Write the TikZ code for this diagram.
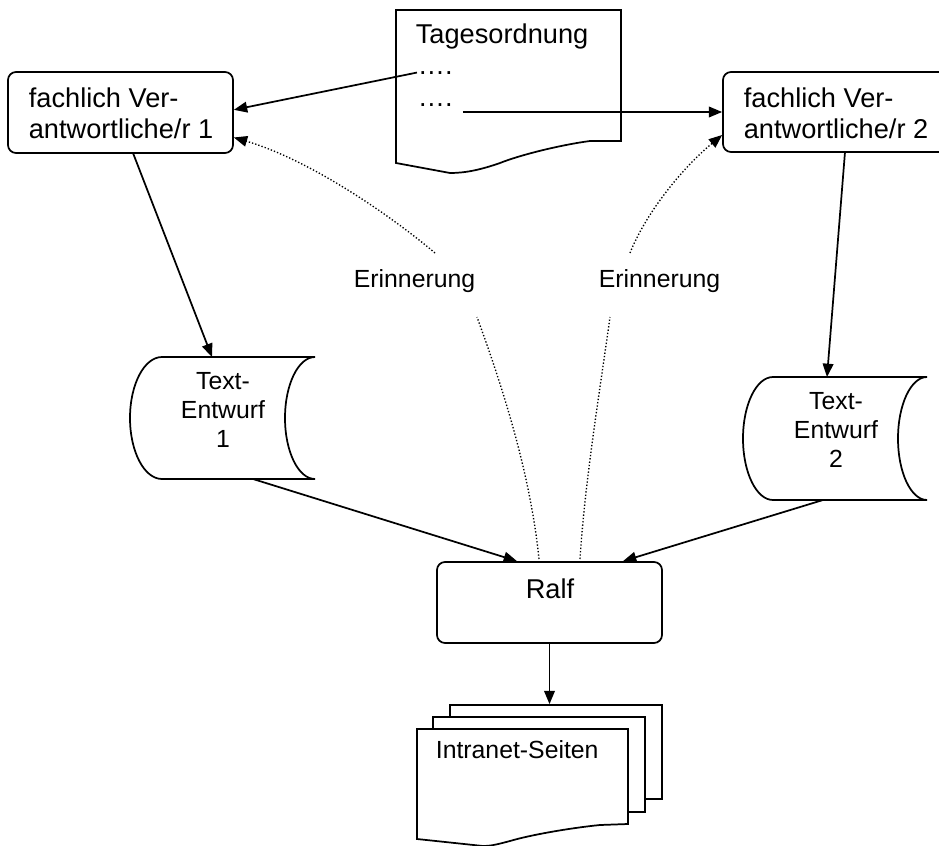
\documentclass[tikz,border=0pt]{standalone}
\usepackage{fontspec}
\setmainfont{Liberation Sans}
\usetikzlibrary{arrows.meta,calc,fit}
\begin{document}
\begin{tikzpicture}[x=0.75pt,y=-0.75pt,
  line width=1.3pt,
  arr/.style={-{Triangle[length=10pt,width=8pt]}},
  dotline/.style={dash pattern=on 1pt off 1.5pt, line width=1pt},
  box/.style={draw, rounded corners=6pt, inner sep=0pt},
  page/.style={draw, fill=white, inner sep=0pt},
  big/.style={font=\fontsize{20.4}{23.25}\selectfont, inner sep=0pt},
  small/.style={font=\fontsize{18.6}{21.5}\selectfont, inner sep=0pt},
]
\useasboundingbox (0,0) rectangle (939,846);

% boxes
\node[box, fit={(8,72) (233,153)}] (b1) {};
\node[big, anchor=base west, align=left] (b1t) at (28,138) {fachlich Ver-\\antwortliche/r 1};
\node[box, fit={(723,72) (950,152)}] (b2) {};
\node[big, anchor=base west, align=left] (b2t) at (743,138) {fachlich Ver-\\antwortliche/r 2};

% Tagesordnung document
\draw[fill=white] (396,10) -- (621,10) -- (621,141) -- (590,141)
  .. controls (560,145) and (520,155) .. (500,163)
  .. controls (480,170) and (465,173) .. (450,173) -- (396,163) -- cycle;
\node[big, anchor=base west] (tag) at (415,43) {Tagesordnung};
\node[big, anchor=base west] (d1) at (417,74) {….};
\node[big, anchor=base west] (d2) at (417,106) {….};

\draw[arr] (d1.west) -- ([yshift=2pt]b1.east);
\draw[arr] ([xshift=7pt]d2.east |- b2.west) -- (b2.west);

% Text-Entwurf 1
\draw (162,357) -- (315,357) .. controls (298.4,357) and (285,384.3) .. (285,418)
  .. controls (285,451.7) and (298.4,479) .. (315,479) -- (162,479)
  .. controls (144.3,479) and (130,451.7) .. (130,418)
  .. controls (130,384.3) and (144.3,357) .. cycle;
\node[small, align=center, anchor=base] (te1) at (223,447) {Text-\\Entwurf\\1};
\coordinate (te1n) at (212,357);
\coordinate (te1s) at (253,479);

% Text-Entwurf 2
\draw (773,377) -- (927,377) .. controls (911,377) and (898,404.5) .. (898,438.5)
  .. controls (898,472.5) and (911,500) .. (927,500) -- (773,500)
  .. controls (756.4,500) and (743,472.5) .. (743,438.5)
  .. controls (743,404.5) and (756.4,377) .. cycle;
\node[small, align=center, anchor=base] (te2) at (836,467) {Text-\\Entwurf\\2};
\coordinate (te2n) at (827,377);
\coordinate (te2s) at (823,500);

% Ralf
\node[box, fit={(437,562) (662,643)}] (ralf) {};
\node[big, anchor=base] (ralft) at (550,598) {Ralf};

\coordinate (b1s) at (133,153);
\coordinate (b2s) at (845,152);
\draw[arr] (b1s) -- (te1n);
\draw[arr] (b2s) -- (te2n);
\draw[arr] (te1s) -- ($(ralf.north)+(-32.5,0)$);
\draw[arr] (te2s) -- ($(ralf.north)+(73.5,0)$);

% Erinnerung
\node[small, anchor=base west] (e1) at (353,287) {Erinnerung};
\node[small, anchor=base west] (e2) at (598,287) {Erinnerung};
\coordinate (e1u) at (435,253);
\coordinate (e1d) at (477,317);
\coordinate (e2u) at (630,253);
\coordinate (e2d) at (610,317);
\coordinate (rl) at (539,559);
\coordinate (rr) at (580,559);
\draw[dotline] (rl) .. controls (530,470) and (500,380) .. (e1d);
\draw[dotline, arr] (e1u) .. controls (390,215) and (310,160) .. ($(b1.east)+(0,25)$);
\draw[dotline] (rr) .. controls (585,480) and (600,390) .. (e2d);
\draw[dotline, arr] (e2u) .. controls (645,215) and (680,170) .. ($(b2.west)+(0,23)$);

% Intranet pages
\node[page, fit={(450,705) (662,799)}] (p3) {};
\node[page, fit={(433,717) (645,812)}] (p2) {};
\draw[fill=white] (417,729) -- (628,729) -- (628,824) -- (600,825)
  .. controls (570,828) and (530,835) .. (510,841)
  .. controls (495,845) and (490,846) .. (483,846) -- (417,839) -- cycle;
\node[small, anchor=base west] (pt) at (435,758) {Intranet-Seiten};
\draw[arr] (ralf.south) -- (ralf.south |- p3.north);
\end{tikzpicture}
\end{document}
